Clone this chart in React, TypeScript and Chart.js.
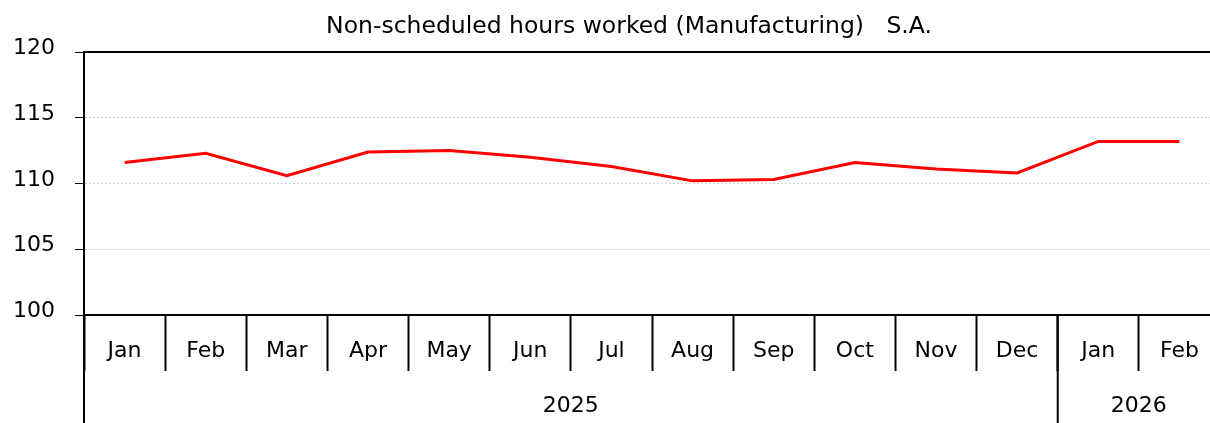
import React, { useEffect, useRef } from "react";
import { Chart, registerables } from "chart.js";

Chart.register(...registerables);

const months = ["Jan", "Feb", "Mar", "Apr", "May", "Jun", "Jul", "Aug", "Sep", "Oct", "Nov", "Dec", "Jan", "Feb"];
const values = [111.6, 112.3, 110.6, 112.4, 112.5, 112.0, 111.3, 110.2, 110.3, 111.6, 111.1, 110.8, 113.2, 113.2];
const yearLabels = ["2025", "2026"];
const yearMonthCounts = [12, 2];
const yTicks = [100, 105, 110, 115, 120];
const titleText = "Non-scheduled hours worked (Manufacturing)   S.A.";

const FONT = "'DejaVu Sans', sans-serif";

const groupPlugin = {
  id: "groupAxis",
  afterLayout(chart: any) {
    const t = chart.titleBlock;
    if (t) {
      t.left = 0;
      t.right = 1258;
      t.width = 1258;
    }
  },
  afterDraw(chart: any) {
    const { ctx, chartArea, scales } = chart;
    const x = scales.x;
    ctx.save();
    // top frame line
    ctx.strokeStyle = "#000";
    ctx.lineWidth = 2;
    ctx.beginPath();
    ctx.moveTo(chartArea.left - 1, chartArea.top);
    ctx.lineTo(chartArea.right, chartArea.top);
    ctx.stroke();
    // year group dividers and labels
    let start = 0;
    ctx.font = `22px ${FONT}`;
    ctx.fillStyle = "#000";
    ctx.textAlign = "center";
    ctx.textBaseline = "middle";
    const bottom = chart.height;
    for (let i = 0; i < yearLabels.length; i++) {
      const end = start + yearMonthCounts[i];
      const x0 = x.getPixelForValue(start - 0.5);
      const x1 = x.getPixelForValue(end - 0.5);
      ctx.beginPath();
      ctx.moveTo(x0, chartArea.bottom);
      ctx.lineTo(x0, bottom);
      ctx.stroke();
      ctx.fillText(yearLabels[i], (x0 + x1) / 2, 406.5);
      start = end;
    }
    ctx.restore();
  },
};

export default function App() {
  const ref = useRef<HTMLCanvasElement | null>(null);
  useEffect(() => {
    if (!ref.current) return;
    const chart = new Chart(ref.current, {
      type: "line",
      data: {
        labels: months,
        datasets: [
          {
            data: values,
            borderColor: "#ff0000",
            borderWidth: 3,
            pointRadius: 0,
            tension: 0,
            fill: false,
          },
        ],
      },
      options: {
        animation: false,
        responsive: false,
        devicePixelRatio: 1,
        layout: { padding: { left: 0, right: 2, top: 0, bottom: 0 } },
        plugins: {
          legend: { display: false },
          tooltip: { enabled: false },
          title: {
            display: true,
            text: titleText,
            color: "#000",
            font: { family: FONT, size: 23.5, weight: "normal", lineHeight: 1 },
            padding: { top: 15, bottom: 13.5 },
          },
        },
        scales: {
          x: {
            type: "category",
            offset: true,
            afterFit: (s: any) => {
              s.height = 423 - 315;
            },
            grid: {
              offset: true,
              drawOnChartArea: false,
              drawTicks: true,
              tickLength: 56,
              tickWidth: 2,
              tickColor: "#000",
            },
            border: { display: true, color: "#000", width: 2 },
            ticks: {
              color: "#000",
              font: { family: FONT, size: 22, lineHeight: 1 },
              padding: -31,
              maxRotation: 0,
              autoSkip: false,
            },
          },
          y: {
            min: 100,
            max: 120,
            afterFit: (s: any) => {
              s.width = 84;
            },
            afterBuildTicks: (s: any) => {
              s.ticks = yTicks.map((v) => ({ value: v }));
            },
            grid: {
              color: (c: any) =>
                c.tick && (c.tick.value === 100 || c.tick.value === 120) ? "rgba(0,0,0,0)" : "#d4d4d4",
              lineWidth: 1,
              drawTicks: true,
              tickLength: 9,
              tickColor: "#000",
              tickWidth: 1,
            },
            border: { display: true, color: "#000", width: 2, dash: [2, 2] },
            ticks: {
              color: "#000",
              font: { family: FONT, size: 22, lineHeight: "7px" },
              padding: 20,
              callback: (v: any) => [String(v), ""],
            },
          },
        },
      },
      plugins: [groupPlugin],
    });
    return () => chart.destroy();
  }, []);
  return (
    <div
      style={{
        position: "fixed",
        left: 0,
        top: 0,
        width: 1210,
        height: 423,
        overflow: "hidden",
        background: "#fff",
      }}
    >
      <canvas ref={ref} width={1222} height={423} style={{ display: "block", width: 1222, height: 423 }} />
    </div>
  );
}
